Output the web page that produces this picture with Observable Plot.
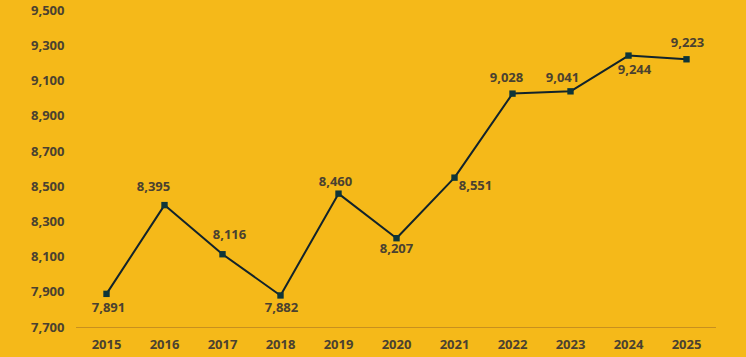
<!DOCTYPE html>
<html><head><meta charset="utf-8">
<script src="https://cdn.jsdelivr.net/npm/d3@7"></script>
<script src="https://cdn.jsdelivr.net/npm/@observablehq/plot@0.6"></script>
<style>
html,body{margin:0;padding:0;background:#F5B919;}
svg{font-family:"Open Sans",sans-serif;}
</style></head><body>
<div id="chart"></div>
<script>
const years = ["2015","2016","2017","2018","2019","2020","2021","2022","2023","2024","2025"];
const values = [7891,8395,8116,7882,8460,8207,8551,9028,9041,9244,9223];
const yTicks = [7700,7900,8100,8300,8500,8700,8900,9100,9300,9500];

const data = years.map((y,i)=>({year:y, value:values[i], i}));
const fmt = d3.format(",");
const textColor = "#4A4130";

// label placement offsets (layout only)
const labelDx = [2,-11,7,1,-3,0,21,-6,-8,6,1];
const labelDy = [14,-18,-19,12,-12,11,8,-16,-14,14,-16];

const chart = Plot.plot({
  width: 746, height: 357,
  marginTop: 10, marginBottom: 30, marginLeft: 76, marginRight: 30,
  style: {background:"#F5B919", fontFamily:"'Open Sans', sans-serif", fontSize:"13px", fontWeight:"bold", color:textColor},
  x: {type:"point", domain: years, padding:0.5, label:null, tickSize:0, tickPadding:12},
  y: {domain:[7700,9500], ticks:yTicks, tickFormat: fmt, label:null, tickSize:0, tickPadding:12},
  marks: [
    Plot.ruleY([7700], {stroke:"#C8901E", strokeWidth:1}),
    Plot.line(data, {x:"year", y:"value", stroke:"#12232B", strokeWidth:2}),
    Plot.dot(data, {x:"year", y:"value", symbol:"square", r:3.6, fill:"#0E3539", stroke:"none"}),
    ...data.map(d => Plot.text([d], {x:"year", y:"value", text:v=>fmt(v.value), dx:labelDx[d.i], dy:labelDy[d.i], fill:textColor, fontSize:13, fontWeight:"bold"}))
  ]
});
document.getElementById("chart").appendChild(chart);
</script>
</body></html>
